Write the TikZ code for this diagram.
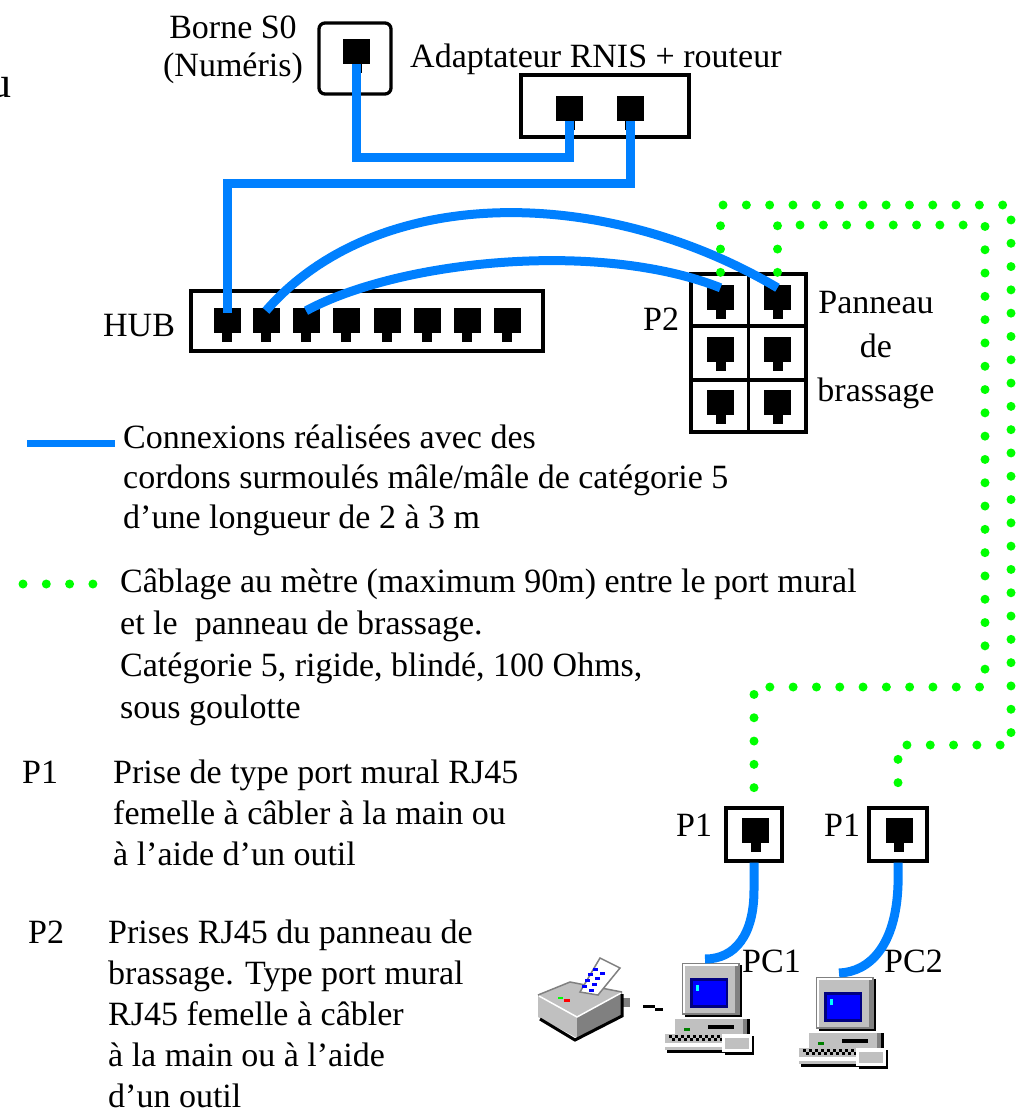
\documentclass[tikz,border=0pt]{standalone}
\usepackage{fontspec}
\setmainfont{Liberation Serif}
\usetikzlibrary{calc}
\definecolor{cordBlue}{HTML}{0080FF}
\definecolor{cableGreen}{HTML}{00FF00}
\definecolor{winGray}{HTML}{C0C0C0}
\definecolor{winDark}{HTML}{808080}
\definecolor{winNavy}{HTML}{000080}
\definecolor{winBlue}{HTML}{0000FF}
\definecolor{winCyan}{HTML}{00FFFF}
\definecolor{winLed}{HTML}{008000}
\definecolor{ledGreen}{HTML}{00FF00}
\definecolor{ledRed}{HTML}{FF0000}

\tikzset{
  computer/.pic={
    % monitor
    \fill[black] (3,2) rectangle (60,54);
    \fill[winDark] (0,0) rectangle (58,52);
    \fill[white] (1,1) rectangle (56,50);
    \fill[winGray] (3,3) rectangle (56,50);
    \fill[winDark] (53,3) rectangle (56,50);
    \fill[winNavy] (8,15) rectangle (46,45);
    \fill[winBlue] (11,18) rectangle (44,42);
    \fill[winCyan] (14,22) rectangle (17,28);
    % system unit
    \fill[black] (-7,56) rectangle (68,73);
    \fill[white] (-9,54) rectangle (65,71);
    \fill[winGray] (-7,56) rectangle (63,71);
    \fill[winDark] (61,56) rectangle (65,71);
    \fill[winLed] (2,65) rectangle (8,68);
    \fill[black] (26,62) rectangle (52,66);
    % keyboard
    \fill[black] (-15,73) rectangle (43,90);
    \fill[winGray] (-17,71) rectangle (41,87);
    \fill[white] (-17,80) rectangle (41,84);
    \foreach \k in {0,...,8} {
      \fill[black] (-13+6*\k,72) rectangle ++(3,3);
      \fill[black] (-10+6*\k,75) rectangle ++(3,3);
    }
    % mouse
    \fill[black] (43,73) rectangle (72,92);
    \fill[white] (40,71) rectangle (70,89);
    \fill[winGray] (43,75) rectangle (67,86);
    \coordinate (-port) at (23,-4);
  },
  printer/.pic={
    \fill[winGray] (0,37) -- (32,24) -- (84,34) -- (39,59) -- cycle;
    \fill[winGray] (0,37) -- (39,59) -- (39,80) -- (0,59) -- cycle;
    \fill[winDark] (39,59) -- (84,34) -- (84,58) -- (39,80) -- cycle;
    \fill[winDark] (82,40) rectangle (92,49);
    \draw[white, line width=1.5pt] (1,38) -- (39,59) -- (83,35);
    \draw[winDark, line width=1.5pt] (0,37) -- (32,24) -- (84,34);
    \draw[black, line width=3pt] (2,61) -- (37,82) -- (84,58) -- (84,36);
    \filldraw[fill=white, draw=winDark, line width=1.5pt] (42,34) -- (62,0) -- (82,10) -- (60,37) -- cycle;
    \foreach \p in {(55,10),(62,14),(50,15),(57,19),(47,21),(54,25),(44,27),(51,31)}
      \fill[winBlue] \p rectangle ++(5,3);
    \fill[ledGreen] (20,39) rectangle (25,41);
    \fill[ledRed] (26,41) rectangle (32,44);
  }
}

\begin{document}
\begin{tikzpicture}[x=1pt,y=-1pt,
  every node/.style={font=\fontsize{34}{41}\selectfont, inner sep=0pt},
  lbl/.style={anchor=base west},
  boxframe/.style={draw, line width=3.3pt, inner sep=0pt},
  rjack/.style={fill=black, minimum width=27pt, minimum height=25pt, inner sep=0pt},
  cord/.style={draw=cordBlue, line width=9pt},
  runcable/.style={draw=cableGreen, line width=9pt, line cap=round, dash pattern=on 0pt off 23.3pt},
]
\useasboundingbox (0,0) rectangle (1021,1117);

% text cut at the left edge
\node[anchor=base east, font=\fontsize{44}{50}\selectfont] (edgeTxt) at (12,97) {u};

% ISDN S0 socket (multi-line nodes are placed by the baseline of their last line)
\node[boxframe, rounded corners=6pt, minimum width=72pt, minimum height=71pt] (borne) at (355,58.5) {};
\node[rjack] (bj) at (356.5,51.5) {};
\node[align=center, anchor=base, font=\fontsize{34}{38}\selectfont] (borneTxt) at (233,76) {Borne S0\\(Numéris)};

% ISDN adapter + router
\node[boxframe, minimum width=168pt, minimum height=62pt] (adapt) at (605,106) {};
\node[rjack] (aj1) at (569.5,108.5) {};
\node[rjack] (aj2) at (630,108.5) {};
\node[lbl] (adaptTxt) at (410,67) {Adaptateur RNIS + routeur};

% hub
\node[boxframe, minimum width=352pt, minimum height=60pt] (hub) at (367,321) {};
\foreach \x [count=\i] in {227,266,306,346,387,427,467,507}
  \node[rjack] (h\i) at (\x,320.5) {};
\node[lbl] (hubTxt) at (103,336) {HUB};

% patch panel
\node[boxframe, minimum width=115pt, minimum height=158pt] (panel) at (748.5,353) {};
\draw[line width=3.3pt] (panel.north) -- (panel.south);
\draw[line width=3.3pt] ($(panel.north west)!1/3!(panel.south west)$) -- ($(panel.north east)!1/3!(panel.south east)$);
\draw[line width=3.3pt] ($(panel.north west)!2/3!(panel.south west)$) -- ($(panel.north east)!2/3!(panel.south east)$);
\node[rjack] (pj1) at (720.5,297.5) {};
\node[rjack] (pj2) at (777.5,297.5) {};
\node[rjack] (pj3) at (720.5,349.5) {};
\node[rjack] (pj4) at (777.5,349.5) {};
\node[rjack] (pj5) at (720.5,402.5) {};
\node[rjack] (pj6) at (777.5,402.5) {};
\node[lbl] (panelRef) at (643,330) {P2};
\node[align=center, anchor=base, font=\fontsize{34}{44}\selectfont] (panelTxt) at (876,401) {Panneau\\de\\brassage};

% wall sockets
\node[boxframe, minimum width=56pt, minimum height=53pt] (w1) at (754,834.5) {};
\node[rjack] (wj1) at (755.5,830.5) {};
\node[boxframe, minimum width=58pt, minimum height=53pt] (w2) at (898,834.5) {};
\node[rjack] (wj2) at (899,830.5) {};
\node[lbl] (w1Txt) at (676,836) {P1};
\node[lbl] (w2Txt) at (824,836) {P1};

% jack latches
\foreach \j in {bj,aj1,aj2,h1,h2,h3,h4,h5,h6,h7,h8,pj1,pj2,pj3,pj4,pj5,pj6,wj1,wj2}
  \fill (\j.south) ++(-5,0) rectangle ++(10,9);

% workstations and printer
\pic (prn) at (538,958) {printer};
\pic (pc1) at (682,963) {computer};
\pic (pc2) at (816,977) {computer};
\node[lbl] (pc1Txt) at (742,972) {PC1};
\node[lbl] (pc2Txt) at (884,972) {PC2};
\fill (643,1005) rectangle (655,1007.5);
\fill (655,1008) rectangle (663,1010.5);

% moulded patch cords
\coordinate (r1) at (460,157.5);
\coordinate (r2) at (430,183);
\draw[cord] (bj.south) |- (r1) -| (aj1.south);
\draw[cord] (aj2.south) |- (r2) -| ([yshift=-5pt]h1.north);
\draw[cord] ([yshift=-3pt]h2.north) .. controls (376,184) and (602,184) .. ([yshift=-3pt]pj2.north);
\draw[cord] ([yshift=-3pt]h3.north) .. controls (400,260) and (600,240) .. ([yshift=-3pt]pj1.north);
\draw[cord] (w1.south) -- (754,890) .. controls (754,935) and (735,959) .. (pc1-port);
\draw[cord] (w2.south) -- (898,885) .. controls (896,945) and (870,972) .. (pc2-port);

% horizontal cabling
\coordinate (gi1) at (985,225);
\coordinate (gi2) at (985,687);
\coordinate (go1) at (1011,205);
\coordinate (go2) at (1011,745);
\draw[runcable] (pj2 |- panel.north) |- (gi1) -- (gi2) -| ([yshift=12pt]w1.north);
\draw[runcable] (pj1 |- panel.north) |- (go1) -- (go2) -| ([yshift=12pt]w2.north);

% legend
\draw[cord, line width=7pt] (27,443.5) -- (115,443.5);
\node[lbl, align=left, font=\fontsize{34}{40}\selectfont] (legCord) at (123,528)
  {Connexions réalisées avec des\\cordons surmoulés mâle/mâle de catégorie 5\\d'une longueur de 2 à 3 m};
\draw[runcable] (23,584) -- (93,584);
\node[lbl, align=left, font=\fontsize{34}{42}\selectfont] (legRun) at (120,718)
  {Câblage au mètre (maximum 90m) entre le port mural\\et le\ \ panneau de brassage.\\Catégorie 5, rigide, blindé, 100 Ohms,\\sous goulotte};
\node[lbl] (legP1) at (22,783) {P1};
\node[lbl, align=left] (legP1Txt) at (113,865)
  {Prise de type port mural RJ45\\femelle à câbler à la main ou\\à l'aide d'un outil};
\node[lbl] (legP2) at (28,943) {P2};
\node[lbl, align=left] (legP2Txt) at (108,1107)
  {Prises RJ45 du panneau de\\brassage. Type port mural\\RJ45 femelle à câbler\\à la main ou à l'aide\\d'un outil};
\end{tikzpicture}
\end{document}
